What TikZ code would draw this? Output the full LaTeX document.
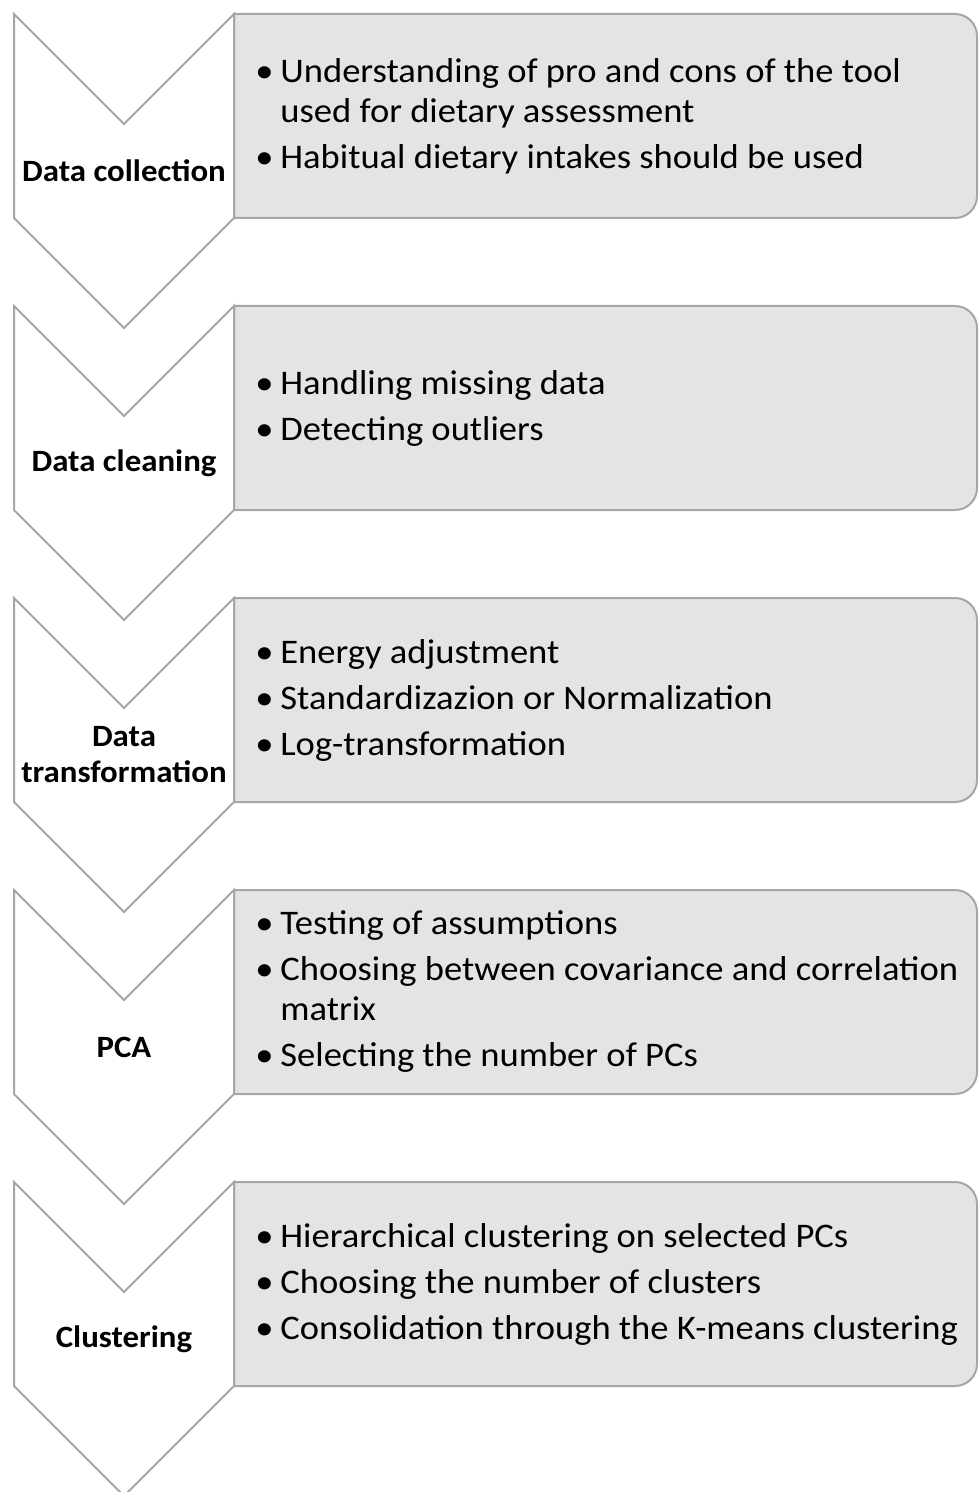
\documentclass[tikz,border=0pt]{standalone}
\usepackage{fontspec}
\setmainfont[FakeStretch=1.06]{Carlito}
\usepackage{tikz}
\definecolor{linegray}{RGB}{166,166,166}
\definecolor{boxgray}{RGB}{228,228,228}
\newcommand{\bul}{\makebox[12.5pt][l]{\textbullet}}
\newcommand{\ind}{\hspace*{12.5pt}}

\begin{document}
\begin{tikzpicture}[x=0.5pt, y=0.5pt,
  chevron/.style={draw=linegray, fill=white, line width=1pt},
  panel/.style={draw=linegray, fill=boxgray, line width=1pt},
  stage/.style={font=\bfseries\fontsize{15.5}{18}\selectfont, align=center, inner sep=0pt},
  items/.style={font=\fontsize{17.25}{20}\selectfont, align=left, anchor=west, inner sep=0pt}]

\useasboundingbox (0,0) rectangle (979,-1492);
\foreach \y in {14,306,598,890,1182} {
  \draw[panel] (234,-\y) -- (955,-\y) arc (90:0:22) -- (977,-\y-182) arc (0:-90:22) -- (234,-\y-204) -- cycle;
  \draw[chevron] (14,-\y) -- (124,-\y-110) -- (234,-\y) -- (234,-\y-204) -- (124,-\y-314) -- (14,-\y-204) -- cycle;
}

\node[stage] (collect) at (124,-171) {Data collection};
\node[stage] (clean) at (124,-463) {Data cleaning};
\node[stage] (transform) at (124,-755) {Data\\transformation};
\node[stage] (pca) at (124,-1047) {PCA};
\node[stage] (cluster) at (124,-1339) {Clustering};

\node[items] (collectlist) at (255,-116) {\bul Understanding of pro and cons of the tool\\ \ind used for dietary assessment\\[3pt] \bul Habitual dietary intakes should be used};
\node[items] (cleanlist) at (255,-408) {\bul Handling missing data\\[3pt] \bul Detecting outliers};
\node[items] (transformlist) at (255,-700) {\bul Energy adjustment\\[3pt] \bul Standardizazion or Normalization\\[3pt] \bul Log-transformation};
\node[items] (pcalist) at (255,-992) {\bul Testing of assumptions\\[3pt] \bul Choosing between covariance and correlation\\ \ind matrix\\[3pt] \bul Selecting the number of PCs};
\node[items] (clusterlist) at (255,-1284) {\bul Hierarchical clustering on selected PCs\\[3pt] \bul Choosing the number of clusters\\[3pt] \bul Consolidation through the K-means clustering};
\end{tikzpicture}
\end{document}
